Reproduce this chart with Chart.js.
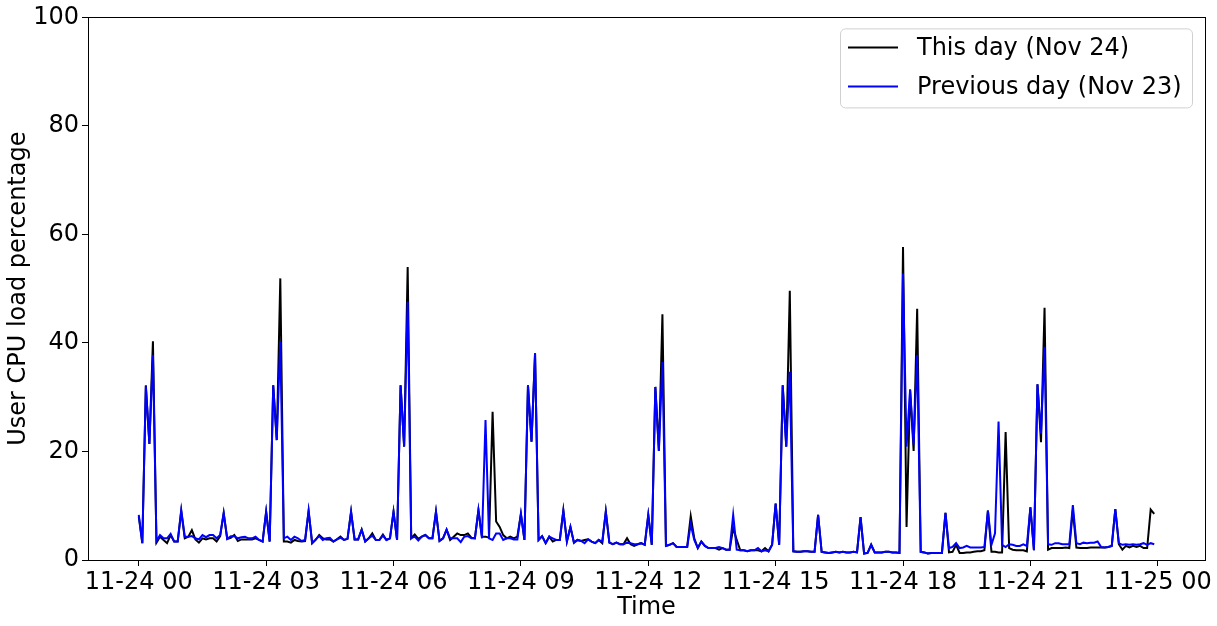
<!DOCTYPE html>
<html>
<head>
<meta charset="utf-8">
<script src="https://cdn.jsdelivr.net/npm/chart.js@4.4.1/dist/chart.umd.min.js"></script>
<style>
  html, body { margin: 0; padding: 0; background: #fff; }
  #wrap { width: 1217px; height: 626px; position: relative; }
</style>
</head>
<body>
<div id="wrap"><canvas id="cpuChart"></canvas></div>
<script>
// 5-minute samples, 00:00 .. 23:55
const thisDay = [
  8.0, 3.1, 32.2, 21.4, 40.3, 3.2, 4.3, 3.7, 3.1, 4.6,
  3.4, 3.4, 9.0, 4.0, 4.3, 5.5, 3.8, 3.2, 4.0, 3.8,
  4.0, 4.0, 3.4, 4.4, 8.6, 3.9, 4.1, 4.6, 3.5, 3.8,
  3.8, 3.8, 3.8, 4.0, 3.7, 3.4, 8.9, 3.4, 32.2, 22.1,
  51.9, 3.4, 3.4, 3.2, 3.7, 3.5, 3.4, 3.5, 9.0, 3.1,
  3.7, 4.6, 4.0, 3.8, 3.8, 3.4, 3.8, 4.3, 3.7, 3.9,
  8.9, 3.8, 3.8, 5.6, 3.4, 4.0, 4.9, 3.7, 3.7, 4.7,
  3.7, 4.0, 8.9, 3.7, 32.2, 20.9, 54.0, 4.0, 4.7, 3.9,
  4.3, 4.6, 4.0, 4.0, 8.9, 3.5, 4.0, 5.6, 3.7, 4.3,
  4.9, 4.6, 4.6, 4.9, 4.1, 4.0, 9.2, 4.3, 4.3, 4.1,
  27.3, 7.1, 6.1, 4.6, 4.0, 4.3, 4.0, 4.3, 8.5, 3.7,
  32.2, 21.8, 38.1, 3.7, 4.4, 3.1, 4.3, 3.4, 3.7, 3.7,
  9.1, 3.4, 6.1, 3.2, 3.7, 3.5, 3.7, 3.8, 3.4, 3.1,
  3.7, 3.1, 8.9, 3.2, 2.9, 3.2, 2.9, 2.9, 4.0, 2.9,
  2.6, 2.9, 3.1, 2.8, 8.3, 2.8, 31.9, 20.1, 45.3, 2.6,
  2.8, 3.1, 2.4, 2.4, 2.4, 2.4, 8.1, 4.0, 2.2, 3.4,
  2.6, 2.2, 2.2, 2.2, 1.9, 2.2, 1.9, 1.9, 5.9, 3.7,
  1.8, 1.8, 1.6, 1.8, 1.8, 1.8, 1.6, 2.2, 1.6, 2.8,
  10.4, 2.8, 32.2, 20.9, 49.6, 1.6, 1.5, 1.5, 1.6, 1.6,
  1.5, 1.5, 8.3, 1.5, 1.4, 1.3, 1.4, 1.5, 1.4, 1.5,
  1.4, 1.4, 1.5, 1.4, 7.9, 1.2, 1.3, 2.8, 1.4, 1.4,
  1.4, 1.5, 1.5, 1.4, 1.4, 1.3, 57.7, 6.1, 31.4, 20.1,
  46.3, 1.5, 1.4, 1.2, 1.3, 1.3, 1.3, 1.3, 8.7, 1.4,
  1.5, 2.8, 1.3, 1.3, 1.4, 1.4, 1.5, 1.6, 1.6, 1.8,
  9.1, 1.5, 1.5, 1.4, 1.4, 23.6, 2.2, 1.9, 1.8, 1.8,
  1.8, 1.6, 9.7, 1.8, 32.4, 21.7, 46.5, 1.9, 2.2, 2.2,
  2.2, 2.2, 2.3, 2.2, 9.2, 2.3, 2.2, 2.2, 2.2, 2.3,
  2.3, 2.3, 2.3, 2.3, 2.4, 2.6, 9.4, 2.9, 1.9, 2.6,
  2.3, 2.6, 2.4, 2.6, 2.2, 2.2, 9.3, 8.5
];
const previousDay = [
  8.3, 3.1, 32.0, 21.4, 37.8, 3.5, 4.6, 4.0, 4.0, 4.8,
  3.4, 3.4, 9.2, 4.3, 4.3, 4.4, 4.0, 3.8, 4.6, 4.2,
  4.6, 4.6, 4.0, 4.6, 8.7, 3.9, 4.4, 4.4, 4.0, 4.2,
  4.3, 4.0, 4.0, 4.3, 3.7, 3.4, 8.9, 3.4, 32.2, 22.1,
  40.2, 4.0, 4.3, 3.7, 4.3, 4.0, 3.5, 3.7, 9.1, 3.1,
  3.8, 4.4, 3.7, 4.0, 4.1, 3.4, 3.8, 4.1, 3.7, 3.9,
  8.9, 3.8, 3.8, 5.6, 3.4, 4.0, 4.5, 3.7, 3.7, 4.5,
  3.7, 4.0, 8.9, 3.7, 32.2, 20.9, 47.6, 4.0, 4.3, 3.6,
  4.3, 4.6, 4.0, 4.0, 8.9, 3.5, 4.0, 5.6, 4.0, 4.0,
  4.0, 3.3, 4.3, 4.4, 4.0, 4.0, 9.2, 4.0, 25.8, 4.0,
  3.7, 4.9, 4.9, 3.7, 4.0, 4.0, 3.8, 3.8, 8.5, 3.7,
  32.2, 21.8, 38.1, 3.7, 4.4, 3.1, 4.3, 4.0, 3.7, 3.7,
  9.1, 3.4, 6.1, 3.2, 3.7, 3.5, 3.1, 3.8, 3.4, 3.1,
  3.7, 3.4, 8.9, 3.2, 2.9, 3.2, 2.9, 2.9, 3.2, 3.1,
  2.9, 2.9, 3.1, 2.8, 8.3, 2.8, 31.9, 20.1, 36.5, 2.6,
  2.8, 3.1, 2.4, 2.4, 2.4, 2.4, 6.6, 3.7, 2.2, 3.4,
  2.6, 2.2, 2.2, 2.2, 2.4, 2.2, 1.9, 1.9, 8.3, 1.9,
  1.8, 1.8, 1.6, 1.8, 1.8, 2.2, 1.6, 1.8, 1.6, 2.8,
  10.4, 2.8, 32.2, 20.9, 34.7, 1.6, 1.5, 1.5, 1.6, 1.6,
  1.5, 1.5, 8.3, 1.5, 1.4, 1.3, 1.4, 1.5, 1.4, 1.5,
  1.4, 1.4, 1.5, 1.4, 7.9, 1.2, 1.3, 2.8, 1.4, 1.4,
  1.4, 1.5, 1.5, 1.4, 1.4, 1.3, 52.8, 20.9, 31.4, 21.3,
  37.8, 1.5, 1.4, 1.2, 1.3, 1.3, 1.3, 1.3, 8.7, 2.2,
  2.4, 3.1, 2.2, 2.3, 2.6, 2.3, 2.3, 2.3, 2.3, 2.4,
  9.1, 2.8, 4.9, 25.5, 2.8, 2.4, 2.9, 2.8, 2.6, 2.6,
  2.9, 2.6, 9.7, 1.8, 32.4, 23.3, 39.3, 2.9, 2.8, 3.1,
  3.1, 2.9, 2.9, 2.9, 10.1, 3.1, 2.9, 3.2, 3.1, 3.2,
  3.2, 3.4, 2.4, 2.3, 2.4, 2.6, 9.4, 3.1, 2.8, 2.9,
  2.8, 2.9, 2.8, 2.9, 3.1, 2.8, 3.1, 2.9
];
const seriesLabels = ['This day (Nov 24)', 'Previous day (Nov 23)'];
const seriesColors = ['#000000', '#0000ff'];
const stepMinutes = 5;
const tickMinutes = [0, 180, 360, 540, 720, 900, 1080, 1260, 1440];
const tickLabels = ['11-24 00', '11-24 03', '11-24 06', '11-24 09', '11-24 12',
                    '11-24 15', '11-24 18', '11-24 21', '11-25 00'];
const yTicks = [0, 20, 40, 60, 80, 100];

const FONT = "'DejaVu Sans', sans-serif";
const toPoints = arr => arr.map((v, i) => ({ x: i * stepMinutes, y: v }));

// matplotlib-like 5% margins on the x range
const xSpan = (thisDay.length - 1) * stepMinutes;
const xMin = -0.05 * xSpan;
const xMax = xSpan * 1.05;

// box around the plot + legend box in the upper right
const framePlugin = {
    id: 'frame',
    afterDraw(chart) {
        const { ctx, chartArea: a } = chart;
        ctx.save();
        ctx.strokeStyle = '#000';
        ctx.lineWidth = 1;
        ctx.strokeRect(Math.round(a.left) + 0.5, Math.round(a.top) + 0.5,
                       Math.round(a.right - a.left), Math.round(a.bottom - a.top));

        // legend
        const bx = a.right - 365, by = a.top + 11, bw = 352, bh = 79;
        ctx.beginPath();
        ctx.roundRect(bx + 0.5, by + 0.5, bw, bh, 5);
        ctx.fillStyle = 'rgba(255,255,255,0.8)';
        ctx.fill();
        ctx.strokeStyle = '#d0d0d0';
        ctx.stroke();
        ctx.font = '24px ' + FONT;
        ctx.textBaseline = 'middle';
        chart.data.datasets.forEach((ds, i) => {
            const y = by + 19 + i * 39;
            ctx.strokeStyle = ds.borderColor;
            ctx.lineWidth = 2;
            ctx.beginPath();
            ctx.moveTo(bx + 8, y);
            ctx.lineTo(bx + 58, y);
            ctx.stroke();
            ctx.fillStyle = '#000';
            ctx.fillText(ds.label, bx + 77, y + 1);
        });
        ctx.restore();
    }
};

const ctx = document.getElementById('cpuChart').getContext('2d');
new Chart(ctx, {
    type: 'line',
    data: {
        datasets: [
            {
                label: seriesLabels[0],
                data: toPoints(thisDay),
                borderColor: seriesColors[0],
                borderWidth: 2,
                pointRadius: 0,
                tension: 0,
                order: 1
            },
            {
                label: seriesLabels[1],
                data: toPoints(previousDay),
                borderColor: seriesColors[1],
                borderWidth: 2,
                pointRadius: 0,
                tension: 0,
                order: 0
            }
        ]
    },
    options: {
        responsive: true,
        maintainAspectRatio: false,
        animation: false,
        layout: { padding: { top: 17, right: 12, left: 0, bottom: 0 } },
        plugins: {
            legend: { display: false },
            tooltip: { enabled: false }
        },
        scales: {
            x: {
                type: 'linear',
                min: xMin,
                max: xMax,
                afterBuildTicks: scale => {
                    scale.ticks = tickMinutes.map(v => ({ value: v }));
                },
                afterFit: scale => { scale.height = 66; },
                grid: {
                    drawOnChartArea: false,
                    drawTicks: true,
                    tickLength: 6,
                    tickColor: '#000',
                    color: '#000'
                },
                border: { display: false },
                ticks: {
                    autoSkip: false,
                    maxRotation: 0,
                    padding: 2,
                    color: '#000',
                    font: { family: FONT, size: 24 },
                    callback: (value, index) => tickLabels[index]
                },
                title: {
                    display: true,
                    text: 'Time',
                    color: '#000',
                    font: { family: FONT, size: 24 },
                    padding: { top: 0, bottom: 4 }
                }
            },
            y: {
                min: 0,
                max: 100,
                afterBuildTicks: scale => {
                    scale.ticks = yTicks.map(v => ({ value: v }));
                },
                afterFit: scale => { scale.width = 88; },
                grid: {
                    drawOnChartArea: false,
                    drawTicks: true,
                    tickLength: 6,
                    tickColor: '#000'
                },
                border: { display: false },
                ticks: {
                    padding: 3,
                    color: '#000',
                    font: { family: FONT, size: 24 }
                },
                title: {
                    display: true,
                    text: 'User CPU load percentage',
                    color: '#000',
                    font: { family: FONT, size: 24 },
                    padding: { top: 4, bottom: 0 }
                }
            }
        }
    },
    plugins: [framePlugin]
});
</script>
</body>
</html>
